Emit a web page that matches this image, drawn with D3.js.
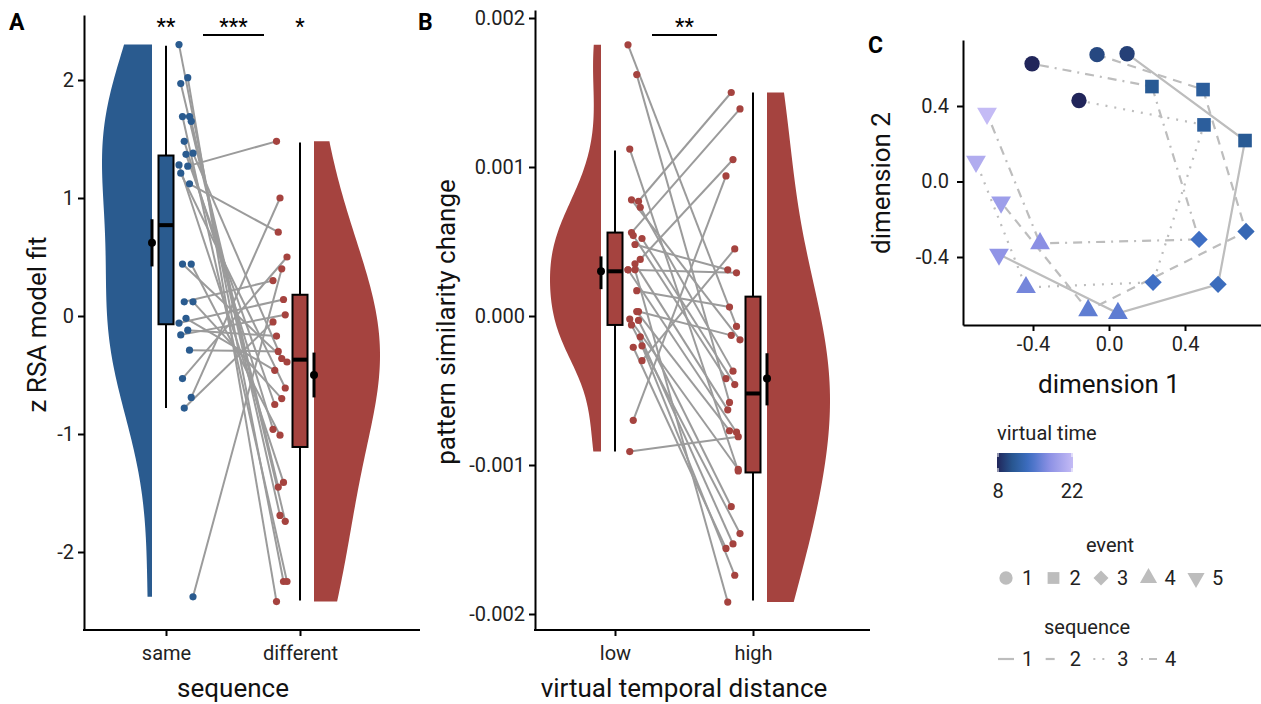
<!DOCTYPE html>
<html>
<head>
<meta charset="utf-8">
<script src="https://cdn.jsdelivr.net/npm/d3@7"></script>
<style>
  body { margin: 0; background: #fff; }
  svg text { font-family: Roboto, "Noto Sans", sans-serif; }
</style>
</head>
<body>
<svg id="chart" width="1261" height="704"></svg>
<script>
// ---- data, panel A: RSA model fit per subject (same / different sequence)
const groupsA = ["same", "different"];
const sameFit = [2.30, 2.02, 1.97, 1.69, 1.69, 1.65, 1.48, 1.38, 1.37, 1.28, 1.27, 1.21, 1.12,
                 0.44, 0.44, 0.12, 0.12, -0.02, -0.06, -0.12, -0.16, -0.29, -0.53, -0.69, -0.78, -2.38];
const diffFit = [-2.25, -2.42, -1.74, -1.45, -2.25, -1.69, -0.96, -0.36, -0.75, -1.41, 1.48, -0.61, 0.71,
                 -0.39, -1.01, 0.30, -0.70, -0.46, 0.14, -0.17, 0.01, -0.30, 0.50, 1.00, -0.05, 0.40];
// box / mean summaries: [lo, q1, median, q3, hi, mean, ciLo, ciHi]
const boxSame = [-0.78, -0.07, 0.77, 1.36, 2.29, 0.62, 0.42, 0.82];
const boxDiff = [-2.41, -1.11, -0.37, 0.18, 1.47, -0.50, -0.69, -0.31];
const ticksA = [-2, -1, 0, 1, 2];
const starsA = [["same", null, "**"], ["same", "different", "***"], ["different", null, "*"]];

// ---- data, panel B: pattern similarity change per subject (low / high distance)
const groupsB = ["low", "high"];
const lowDist = [0.00182, 0.00162, 0.00112, 0.00077, 0.00056, 0.00038, -0.00070, -0.00030, 0.00048,
                 0.00031, 0.00017, -0.00091, 0.00003, 0.00078, 0.00073, 0.00054, 0.00052, 0.00035,
                 0.00031, 0.00003, -0.00002, -0.00003, -0.00006, -0.00014, -0.00021, -0.00020, 0.00031];
const highDist = [-0.00007, -0.00058, -0.00104, 0.00150, 0.00139, 0.00105, 0.00094, 0.00045, 0.00031,
                  0.00029, 0.00006, -0.00081, -0.00013, -0.00016, -0.00037, -0.00042, -0.00046, -0.00063,
                  -0.00078, -0.00077, -0.00103, -0.00128, -0.00146, -0.00153, -0.00156, -0.00174, -0.00192];
const boxLow = [-0.00091, -0.00006, 0.00030, 0.00056, 0.00111, 0.00030, 0.00018, 0.00040];
const boxHigh = [-0.00191, -0.00105, -0.00052, 0.00013, 0.00150, -0.00042, -0.00060, -0.00025];
const ticksB = [-0.002, -0.001, 0, 0.001, 0.002];
const starsB = [["low", "high", "**"]];

// ---- data, panel C: MDS of event patterns, one row per sequence, one column per event
const events = [1, 2, 3, 4, 5];
const sequences = [1, 2, 3, 4];
const dim1 = [
  [0.095, 0.716, 0.574, 0.047, -0.579],
  [-0.063, 0.495, 0.721, -0.110, -0.568],
  [-0.158, 0.500, 0.232, -0.437, -0.700],
  [-0.405, 0.226, 0.474, -0.363, -0.642]
];
const dim2 = [
  [0.677, 0.217, -0.545, -0.698, -0.386],
  [0.672, 0.487, -0.265, -0.683, -0.110],
  [0.429, 0.300, -0.534, -0.561, 0.106],
  [0.624, 0.503, -0.307, -0.328, 0.360]
];
const vtime = [
  [9.5, 11, 13.5, 15.5, 18],
  [10, 11.5, 13, 15.5, 19],
  [8, 11.5, 14, 16.5, 20.5],
  [8, 11, 14, 17.5, 22]
];
const timeRange = [8, 22];
const ticksC = [-0.4, 0, 0.4];

// ---- drawing
const svg = d3.select("#chart");
const blue = "#2a5b8f", red = "#a5433f", lineGrey = "#9b9b9b";

function styleAxis(g) {
  g.selectAll(".domain").attr("stroke", "#000").attr("stroke-width", 2);
  g.selectAll(".tick line").attr("stroke", "#000").attr("stroke-width", 2);
  g.selectAll(".tick text").attr("fill", "#222").style("font-size", "20px");
}

function stretch(scale, r0, r1) {
  return scale.copy().domain([scale.invert(r0), scale.invert(r1)]).range([r0, r1]);
}

// gaussian kernel density, trimmed to the data range (bandwidth nrd0 * adjust)
function density(vals, adjust) {
  const s = vals.slice().sort(d3.ascending);
  const iqr = d3.quantile(s, 0.75) - d3.quantile(s, 0.25);
  const bw = adjust * 0.9 * Math.min(d3.deviation(s), iqr / 1.34) * Math.pow(s.length, -0.2);
  const lo = s[0], hi = s[s.length - 1];
  return d3.range(121).map(i => {
    const y = lo + (hi - lo) * i / 120;
    const d = d3.mean(s, v => Math.exp(-0.5 * ((y - v) / bw) ** 2)) / (bw * Math.sqrt(2 * Math.PI));
    return [y, d];
  });
}

function jitter(i) { return ((i * 5) % 9) / 8 - 0.5; }

function rainPanel(o) {
  const g = svg.append("g");
  const x = d3.scalePoint().domain(o.groups).range(o.xPos);
  const y = o.y;

  // half violins: first group opens left, second group opens right
  o.vals.forEach((vs, k) => {
    const dd = density(vs, 1.3);
    const w = d3.scaleLinear().domain([0, d3.max(dd, p => p[1])]).range([0, o.maxW[k]]);
    const edge = x(o.groups[k]) + (k === 0 ? -14 : 14);
    const area = d3.area()
      .y(p => y(p[0]))
      .x0(p => k === 0 ? edge - w(p[1]) : edge)
      .x1(p => k === 0 ? edge : edge + w(p[1]));
    g.append("path").datum(dd).attr("d", area).attr("fill", o.colors[k]);
  });

  // boxplots
  o.boxes.forEach((b, k) => {
    const cx = x(o.groups[k]);
    g.append("line").attr("x1", cx).attr("x2", cx).attr("y1", y(b[4])).attr("y2", y(b[0]))
      .attr("stroke", "#000").attr("stroke-width", 2);
    g.append("rect").attr("x", cx - 7.5).attr("width", 15)
      .attr("y", y(b[3])).attr("height", y(b[1]) - y(b[3]))
      .attr("fill", o.colors[k]).attr("stroke", "#000").attr("stroke-width", 2);
    g.append("line").attr("x1", cx - 7.5).attr("x2", cx + 7.5).attr("y1", y(b[2])).attr("y2", y(b[2]))
      .attr("stroke", "#000").attr("stroke-width", 4);
  });

  // subject lines and dots
  const px = (k, i) => x(o.groups[k]) + (k === 0 ? 20 : -20) + jitter(i + k * 3) * 14;
  o.vals[0].forEach((v, i) => {
    g.append("line")
      .attr("x1", px(0, i)).attr("y1", y(v))
      .attr("x2", px(1, i)).attr("y2", y(o.vals[1][i]))
      .attr("stroke", lineGrey).attr("stroke-width", 2);
  });
  o.vals.forEach((vs, k) => {
    g.selectAll(null).data(vs).join("circle")
      .attr("cx", (v, i) => px(k, i)).attr("cy", v => y(v)).attr("r", 3.6)
      .attr("fill", o.colors[k]);
  });

  // mean with error bar
  o.boxes.forEach((b, k) => {
    const mx = x(o.groups[k]) + (k === 0 ? -14 : 14);
    g.append("line").attr("x1", mx).attr("x2", mx).attr("y1", y(b[6])).attr("y2", y(b[7]))
      .attr("stroke", "#000").attr("stroke-width", 3);
    g.append("circle").attr("cx", mx).attr("cy", y(b[5])).attr("r", 4).attr("fill", "#000");
  });

  // axes
  g.append("g").attr("transform", `translate(${o.left},0)`)
    .call(d3.axisLeft(y).tickValues(o.ticks).tickFormat(o.fmt).tickSizeOuter(0).tickPadding(4))
    .call(styleAxis);
  const xa = g.append("g").attr("transform", `translate(0,${o.bottom})`)
    .call(d3.axisBottom(x).tickSizeOuter(0).tickPadding(10))
    .call(styleAxis);
  xa.select(".domain").remove();
  g.append("line").attr("x1", o.left - 1).attr("x2", o.right).attr("y1", o.bottom).attr("y2", o.bottom)
    .attr("stroke", "#000").attr("stroke-width", 2);

  // significance marks
  o.stars.forEach(s => {
    if (s[1] === null) {
      g.append("text").attr("x", x(s[0])).attr("y", 34).attr("text-anchor", "middle")
        .style("font-size", "22px").text(s[2]);
    } else {
      const x1 = x(s[0]) + 37, x2 = x(s[1]) - 36;
      g.append("line").attr("x1", x1).attr("x2", x2).attr("y1", 35).attr("y2", 35)
        .attr("stroke", "#000").attr("stroke-width", 2);
      g.append("text").attr("x", (x1 + x2) / 2).attr("y", 34).attr("text-anchor", "middle")
        .style("font-size", "22px").text(s[2]);
    }
  });

  // titles
  g.append("text").attr("transform", `translate(${o.yTitleX},${(o.top + o.bottom) / 2 + 2}) rotate(-90)`)
    .attr("text-anchor", "middle").style("font-size", "26px").attr("fill", "#111").text(o.yTitle);
  g.append("text").attr("x", (o.xPos[0] + o.xPos[1]) / 2).attr("y", 697)
    .attr("text-anchor", "middle").style("font-size", "26px").attr("fill", "#111").text(o.xTitle);
  g.append("text").attr("x", o.letterX).attr("y", 30).style("font-size", "23px")
    .style("font-weight", "bold").text(o.letter);
}

const yA = stretch(d3.scaleLinear().domain([-2, 2]).range([552, 80]), 630, 15);
rainPanel({
  groups: groupsA, xPos: [166, 300], vals: [sameFit, diffFit], boxes: [boxSame, boxDiff],
  colors: [blue, red], y: yA, ticks: ticksA, fmt: d => String(d), maxW: [50, 66],
  left: 84, right: 420, top: 15, bottom: 630, stars: starsA,
  yTitle: "z RSA model fit", yTitleX: 46, xTitle: "sequence", letter: "A", letterX: 9
});

const yB = stretch(d3.scaleLinear().domain([-0.002, 0.002]).range([614, 18]), 630, 10);
rainPanel({
  groups: groupsB, xPos: [615, 753], vals: [lowDist, highDist], boxes: [boxLow, boxHigh],
  colors: [red, red], y: yB, ticks: ticksB, fmt: d => d.toFixed(3), maxW: [51, 63],
  left: 535, right: 870, top: 10, bottom: 630, stars: starsB,
  yTitle: "pattern similarity change", yTitleX: 455, xTitle: "virtual temporal distance", letter: "B", letterX: 418
});

// ---- panel C
const gC = svg.append("g");
const xC = stretch(d3.scaleLinear().domain([-0.4, 0.4]).range([1033, 1185]), 963, 1262);
const yC = stretch(d3.scaleLinear().domain([-0.4, 0.4]).range([257, 106]), 325, 40);
const tColor = d3.scaleLinear()
  .domain([8, 11, 14, 17.5, 22])
  .range(["#21255a", "#285a94", "#3f6fc4", "#8a8fe4", "#c4bbf5"]);
const dashes = [null, "9,7", "2,7", "2,6,9,6"];
const shapeOf = [d3.symbolCircle, d3.symbolSquare, d3.symbolSquare, d3.symbolTriangle, d3.symbolTriangle];
const sizeOf = [185, 185, 150, 170, 170];
const rotOf = [0, 0, 45, 0, 180];

sequences.forEach((s, k) => {
  const pts = events.map((e, j) => [dim1[k][j], dim2[k][j]]);
  gC.append("path").datum(pts)
    .attr("d", d3.line().x(p => xC(p[0])).y(p => yC(p[1])))
    .attr("fill", "none").attr("stroke", "#bdbdbd").attr("stroke-width", 2.2)
    .attr("stroke-dasharray", dashes[k]);
});
sequences.forEach((s, k) => {
  events.forEach((e, j) => {
    gC.append("path")
      .attr("d", d3.symbol(shapeOf[j], sizeOf[j])())
      .attr("transform", `translate(${xC(dim1[k][j])},${yC(dim2[k][j])}) rotate(${rotOf[j]})`)
      .attr("fill", tColor(vtime[k][j]));
  });
});

gC.append("g").attr("transform", "translate(963,0)")
  .call(d3.axisLeft(yC).tickValues(ticksC).tickFormat(d => d.toFixed(1)).tickSizeOuter(0).tickPadding(8))
  .call(styleAxis);
gC.append("g").attr("transform", "translate(0,325)")
  .call(d3.axisBottom(xC).tickValues(ticksC).tickFormat(d => d.toFixed(1)).tickSizeOuter(0).tickPadding(6))
  .call(styleAxis);
gC.append("text").attr("transform", "translate(890,183) rotate(-90)").attr("text-anchor", "middle")
  .style("font-size", "26px").attr("fill", "#111").text("dimension 2");
gC.append("text").attr("x", 1109).attr("y", 393).attr("text-anchor", "middle")
  .style("font-size", "26px").attr("fill", "#111").text("dimension 1");
gC.append("text").attr("x", 868).attr("y", 53).style("font-size", "23px").style("font-weight", "bold").text("C");

// legend: virtual time colourbar
const lg = svg.append("g");
const grad = svg.append("defs").append("linearGradient").attr("id", "vt");
d3.range(11).forEach(i => {
  const t = timeRange[0] + (timeRange[1] - timeRange[0]) * i / 10;
  grad.append("stop").attr("offset", `${i * 10}%`).attr("stop-color", tColor(t));
});
const xBar = d3.scaleLinear().domain(timeRange).range([998, 1072]);
lg.append("text").attr("x", 997).attr("y", 440).style("font-size", "20px").attr("fill", "#222").text("virtual time");
lg.append("rect").attr("x", xBar(timeRange[0]) - 1).attr("y", 453).attr("width", xBar(timeRange[1]) - xBar(timeRange[0]) + 2)
  .attr("height", 19).attr("fill", "url(#vt)");
timeRange.forEach(t => {
  lg.append("line").attr("x1", xBar(t)).attr("x2", xBar(t)).attr("y1", 453).attr("y2", 457).attr("stroke", "#fff");
  lg.append("line").attr("x1", xBar(t)).attr("x2", xBar(t)).attr("y1", 468).attr("y2", 472).attr("stroke", "#fff");
  lg.append("text").attr("x", xBar(t)).attr("y", 498).attr("text-anchor", "middle")
    .style("font-size", "20px").attr("fill", "#222").text(t);
});

// legend: event shapes
const xEv = d3.scalePoint().domain(events).range([1006, 1196]);
lg.append("text").attr("x", 1110).attr("y", 552).attr("text-anchor", "middle").style("font-size", "20px").attr("fill", "#222").text("event");
events.forEach((e, j) => {
  lg.append("path").attr("d", d3.symbol(shapeOf[j], sizeOf[j] * 0.75)())
    .attr("transform", `translate(${xEv(e)},578) rotate(${rotOf[j]})`).attr("fill", "#bdbdbd");
  lg.append("text").attr("x", xEv(e) + 16).attr("y", 585).style("font-size", "20px").attr("fill", "#222").text(e);
});

// legend: sequence line types
const xSq = d3.scalePoint().domain(sequences).range([1006, 1149]);
lg.append("text").attr("x", 1087).attr("y", 634).attr("text-anchor", "middle").style("font-size", "20px").attr("fill", "#222").text("sequence");
sequences.forEach((s, k) => {
  lg.append("line").attr("x1", xSq(s) - 8).attr("x2", xSq(s) + 8).attr("y1", 659).attr("y2", 659)
    .attr("stroke", "#bdbdbd").attr("stroke-width", 2.2).attr("stroke-dasharray", dashes[k]);
  lg.append("text").attr("x", xSq(s) + 16).attr("y", 666).style("font-size", "20px").attr("fill", "#222").text(s);
});
</script>
</body>
</html>
